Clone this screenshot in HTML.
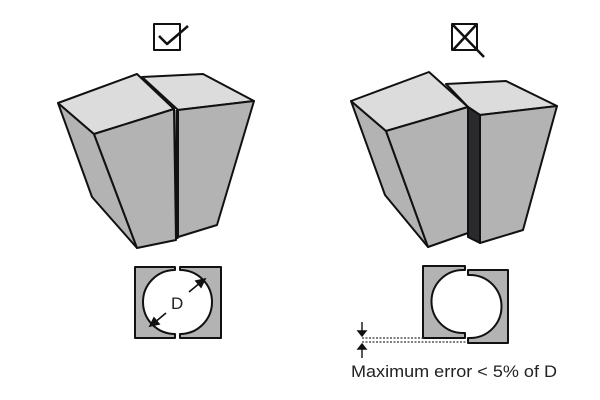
<!DOCTYPE html>
<html><head><style>html,body{margin:0;padding:0;background:#fff}svg{display:block}</style></head>
<body>
<svg width="600" height="400" viewBox="0 0 600 400" xmlns="http://www.w3.org/2000/svg">
<g stroke="#111" stroke-width="2" fill="none" stroke-linejoin="round">
<rect x="154" y="24" width="26" height="26" stroke-width="2"/>
<polyline points="159,36 167,44 188,26" stroke-width="2.5"/>
<rect x="452" y="24" width="25" height="26"/>
<line x1="453" y1="25" x2="484" y2="57" stroke-width="2.5"/>
<line x1="476" y1="25" x2="453" y2="50" stroke-width="2.5"/>
</g>
<g stroke="#111" stroke-width="2" stroke-linejoin="round">
<polygon points="142,77 203,74 254,101 178,110" fill="#dcdcdc"/>
<polygon points="178,110 254,101 217,225 178,237" fill="#b3b3b3"/>
<polygon points="58,103 94,134 137,248 92,197" fill="#b3b3b3"/>
<polygon points="58,103 137,74 174,109 94,134" fill="#dcdcdc"/>
<polygon points="94,134 174,109 176,240 137,248" fill="#b3b3b3"/>
<line x1="177" y1="110" x2="177" y2="239" stroke-width="3"/>
<polygon points="446,84 506,81 557,106 480,115 468,107" fill="#dcdcdc"/>
<polygon points="468,107 480,115 480,243 468,237" fill="#2a2a2c"/>
<polygon points="480,115 557,106 523,230 480,243" fill="#b3b3b3"/>
<polygon points="351,101 386,131 428,247 385,195" fill="#b3b3b3"/>
<polygon points="351,101 429,72 468,107 386,131" fill="#dcdcdc"/>
<polygon points="386,131 468,107 468,233 428,247" fill="#b3b3b3"/>
<path d="M135,267 H175 V270 A32,32 0 0 0 175,334 V338 H135 Z" fill="#b3b3b3"/>
<path d="M221,267 H180 V270 A32,32 0 0 1 180,334 V338 H221 Z" fill="#b3b3b3"/>
<path d="M423,266 H465 V270 H463 A31.5,31.5 0 0 0 463,333 H465 V338 H423 Z" fill="#b3b3b3"/>
<path d="M508,270 H468 V275 H470 A31.5,31.5 0 0 1 470,338 H468 V343 H508 Z" fill="#b3b3b3"/>
</g>
<g stroke="#111" stroke-width="1.6" fill="#111">
<line x1="189" y1="292" x2="201" y2="282"/>
<polygon points="205,279 196,281 201,287"/>
<line x1="166" y1="313" x2="154" y2="323"/>
<polygon points="150,326 159,324 154,318"/>
</g>
<text x="171" y="309" font-family="Liberation Sans, sans-serif" font-size="17" fill="#222" font-weight="300">D</text>
<g stroke="#333" stroke-width="1.2" stroke-dasharray="2,1.5">
<line x1="362" y1="338" x2="424" y2="338"/>
<line x1="362" y1="342" x2="468" y2="342"/>
</g>
<g stroke="#111" stroke-width="1.4" fill="#111">
<line x1="362" y1="322" x2="362" y2="332"/>
<polygon points="358,331 366,331 362,336"/>
<line x1="362" y1="348" x2="362" y2="358"/>
<polygon points="358,349 366,349 362,344"/>
</g>
<text x="351" y="377" font-family="Liberation Sans, sans-serif" font-size="17" fill="#222" textLength="206" lengthAdjust="spacingAndGlyphs">Maximum error &lt; 5% of D</text>
</svg>
</body></html>
